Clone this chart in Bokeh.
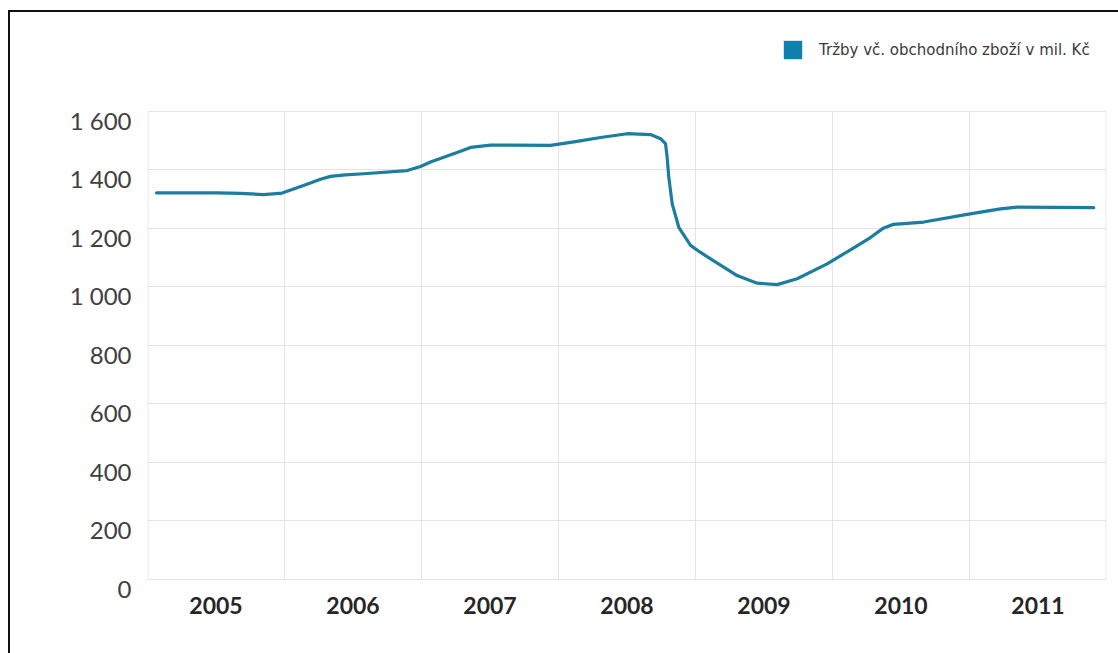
from bokeh.plotting import figure
from bokeh.models import (Range1d, FixedTicker, Legend, LegendItem, InlineStyleSheet)
from bokeh.embed import file_html
from bokeh.resources import INLINE

# ---- data ----
years = [2005, 2006, 2007, 2008, 2009, 2010, 2011]
series_name = "Tržby vč. obchodního zboží v mil. Kč"
# traced curve: position on the year axis, value in mil. Kč
x_pos = [2004.566, 2005.009, 2005.179, 2005.347, 2005.483, 2005.639, 2005.763, 2005.836,
         2005.945, 2006.077, 2006.396, 2006.493, 2006.566, 2006.785, 2006.858, 2007.004,
         2007.442, 2007.624, 2007.807, 2008.001, 2008.172, 2008.245, 2008.281, 2008.293,
         2008.305, 2008.330, 2008.378, 2008.464, 2008.537, 2008.610, 2008.804, 2008.950,
         2009.096, 2009.242, 2009.461, 2009.631, 2009.777, 2009.874, 2009.945, 2009.996,
         2010.166, 2010.483, 2010.726, 2010.848, 2011.407]
values = [1322, 1322, 1320, 1316, 1321, 1347, 1368, 1378,
          1383, 1387, 1398, 1412, 1427, 1464, 1477, 1485,
          1484, 1497, 1511, 1524, 1521, 1507, 1490, 1444,
          1375, 1284, 1204, 1142, 1118, 1096, 1039, 1013,
          1008, 1028, 1079, 1127, 1169, 1202, 1214, 1216,
          1222, 1248, 1267, 1273, 1271]
y_ticks = [0, 200, 400, 600, 800, 1000, 1200, 1400, 1600]
y_tick_labels = ["0", "200", "400", "600", "800", "1 000", "1 200", "1 400", "1 600"]

line_color = "#1d7d9e"
square_color = "#0f7fae"
grid_color = "#e4e4e4"

# layout geometry (pixels)
W, H = 1118, 653
frame_left, frame_right = 147, 1106
top_px, zero_px, frame_bottom = 111, 579, 588       # 1600 line, 0 line, frame bottom
ppu = (zero_px - top_px) / (y_ticks[-1] - y_ticks[0])  # pixels per unit
label_drop = 9 / ppu                                   # y labels sit 9 px below their lines

y_start = y_ticks[0] - (frame_bottom - zero_px) / ppu - 0.3
y_end = y_ticks[-1] + top_px / ppu

p = figure(width=W, height=H,
           x_range=Range1d(years[0] - 0.5, years[-1] + 0.5),
           y_range=Range1d(y_start, y_end),
           output_backend="svg", toolbar_location=None,
           min_border_left=frame_left, min_border_right=W - frame_right,
           min_border_top=0, min_border_bottom=H - frame_bottom)
p.background_fill_color = "white"
p.border_fill_color = "white"
p.outline_line_color = None

# horizontal grid
p.xgrid.visible = False
p.ygrid.ticker = FixedTicker(ticks=y_ticks)
p.ygrid.grid_line_color = grid_color

# vertical grid lines (category boundaries), bounded to 0..1600
eps = 0.5 / 137
bx = [years[0] - 0.5 + eps] + [y + 0.5 for y in years[:-1]] + [years[-1] + 0.5 - eps]
p.segment(x0=bx, y0=[y_ticks[0]] * len(bx), x1=bx, y1=[y_ticks[-1]] * len(bx),
          line_color=grid_color, line_width=1)

# y axis, labels hanging slightly below their grid lines
ytick_pos = [v - label_drop for v in y_ticks]
p.yaxis.ticker = FixedTicker(ticks=ytick_pos)
p.yaxis.major_label_overrides = {t: s for t, s in zip(ytick_pos, y_tick_labels)}
p.yaxis.axis_line_color = None
p.yaxis.major_tick_line_color = None
p.yaxis.minor_tick_line_color = None
p.yaxis.major_label_standoff = 10
p.yaxis.major_label_text_font = "Lato"
p.yaxis.major_label_text_font_size = "24px"
p.yaxis.major_label_text_color = "#404040"

# x axis
p.xaxis.ticker = FixedTicker(ticks=years)
p.xaxis.axis_line_color = None
p.xaxis.major_tick_line_color = None
p.xaxis.minor_tick_line_color = None
p.xaxis.major_label_text_font = "Lato"
p.xaxis.major_label_text_font_style = "bold"
p.xaxis.major_label_text_font_size = "23px"
p.xaxis.major_label_text_color = "#262626"
p.xaxis.major_label_standoff = 2

# the line
p.line(x_pos, values, line_color=line_color, line_width=3.2, line_join="round", line_cap="round")

# legend (square swatch; the swatch renderer itself is never shown)
sw = p.rect(x=[x_pos[0]], y=[values[0]], width=0.01, height=1,
            fill_color=square_color, line_color=None, visible=False)
legend = Legend(items=[LegendItem(label=series_name, renderers=[sw])],
                location=(634, frame_bottom - 61), orientation="horizontal",
                background_fill_alpha=0, border_line_color=None,
                inactive_fill_alpha=0,
                glyph_width=23, glyph_height=23, label_standoff=15,
                label_text_font="DejaVu Sans", label_text_font_size="15px",
                label_text_color="#3a3a3a", padding=0, margin=0)
p.add_layout(legend, "center")

# cropped frame lines (top and left) of the original picture
p.stylesheets = [InlineStyleSheet(css="""
:host::before {
  content: ""; position: absolute; left: 8px; top: 10px; right: 0; bottom: 0;
  border-left: 2px solid #111; border-top: 2px solid #111;
  pointer-events: none; z-index: 10;
}
""")]

open("out.html", "w").write(file_html(p, INLINE))
